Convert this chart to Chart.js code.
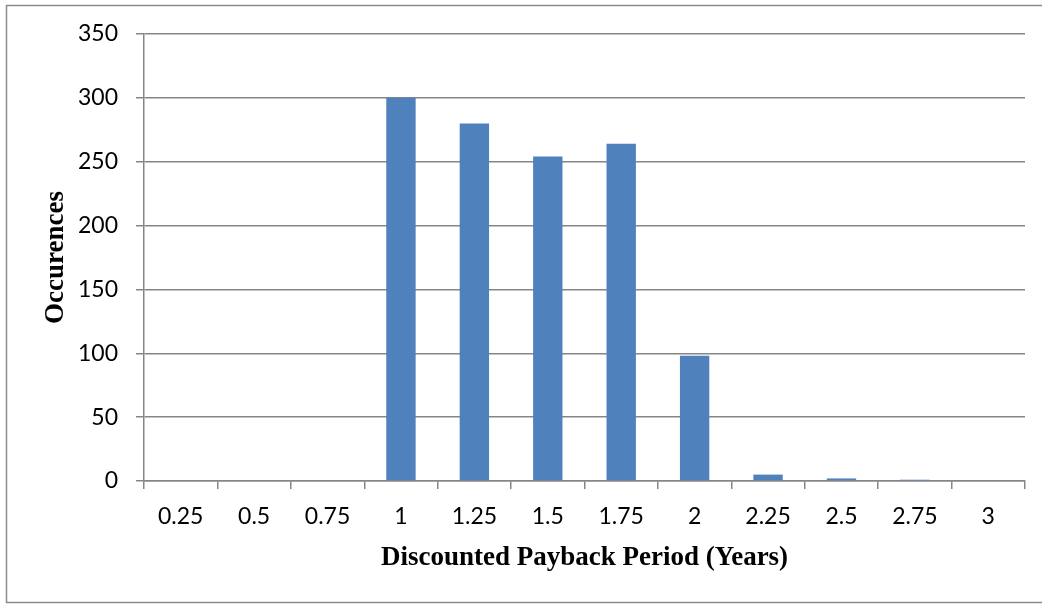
<!DOCTYPE html>
<html>
<head>
<meta charset="utf-8">
<script src="https://cdn.jsdelivr.net/npm/chart.js@4"></script>
<style>
  html, body { margin: 0; padding: 0; background: #ffffff; }
  #wrap { position: relative; width: 1042px; height: 605px; }
</style>
</head>
<body>
<div id="wrap"><canvas id="c" width="1042" height="605"></canvas></div>
<script>
const categories = ["0.25", "0.5", "0.75", "1", "1.25", "1.5", "1.75", "2", "2.25", "2.5", "2.75", "3"];
const occurrences = [0, 0, 0, 300, 280, 254, 264, 98, 5, 2, 1, 0];
const yTicks = [0, 50, 100, 150, 200, 250, 300, 350];
const xTitle = "Discounted Payback Period (Years)";
const yTitle = "Occurences";

const gridColor = "#868686";

const framePlugin = {
  id: "frame",
  beforeDraw(chart) {
    const ctx = chart.ctx;
    ctx.save();
    ctx.fillStyle = "#ffffff";
    ctx.fillRect(0, 0, chart.width, chart.height);
    ctx.strokeStyle = "#8c8c8c";
    ctx.lineWidth = 1.5;
    ctx.beginPath();
    ctx.moveTo(1042, 5.5);
    ctx.lineTo(6.5, 5.5);
    ctx.lineTo(6.5, 602.5);
    ctx.lineTo(1042, 602.5);
    ctx.stroke();
    ctx.restore();
  }
};

new Chart(document.getElementById("c"), {
  type: "bar",
  data: {
    labels: categories,
    datasets: [{
      data: occurrences,
      backgroundColor: "#4f81bd",
      borderWidth: 0,
      categoryPercentage: 1,
      barPercentage: 0.4
    }]
  },
  options: {
    responsive: false,
    animation: false,
    devicePixelRatio: 1,
    layout: { padding: { left: 0, top: 34, right: 17, bottom: 0 } },
    plugins: {
      legend: { display: false },
      tooltip: { enabled: false }
    },
    scales: {
      x: {
        afterFit(scale) { scale.height = 124; },
        grid: {
          offset: true,
          drawOnChartArea: false,
          drawTicks: true,
          tickLength: 8,
          color: gridColor,
          lineWidth: 1.5
        },
        border: { display: true, color: gridColor, width: 1.5 },
        ticks: {
          color: "#000000",
          font: { family: "Lato", size: 23 },
          padding: 14,
          maxRotation: 0,
          autoSkip: false
        },
        title: {
          display: true,
          text: xTitle,
          color: "#000000",
          font: { family: "Liberation Serif", size: 27, weight: "bold" },
          padding: { top: 0, bottom: 31 }
        }
      },
      y: {
        min: 0,
        max: 350,
        afterFit(scale) { scale.width = 144; },
        afterBuildTicks(scale) { scale.ticks = yTicks.map(v => ({ value: v })); },
        grid: {
          drawTicks: true,
          tickLength: 8,
          color: gridColor,
          lineWidth: 1.5
        },
        border: { display: true, color: gridColor, width: 1.5 },
        ticks: {
          color: "#000000",
          font: { family: "Lato", size: 23 },
          padding: 18
        },
        title: {
          display: true,
          text: yTitle,
          color: "#000000",
          font: { family: "Liberation Serif", size: 27, weight: "bold" },
          padding: { top: 40, bottom: 0 }
        }
      }
    }
  },
  plugins: [framePlugin]
});
</script>
</body>
</html>
